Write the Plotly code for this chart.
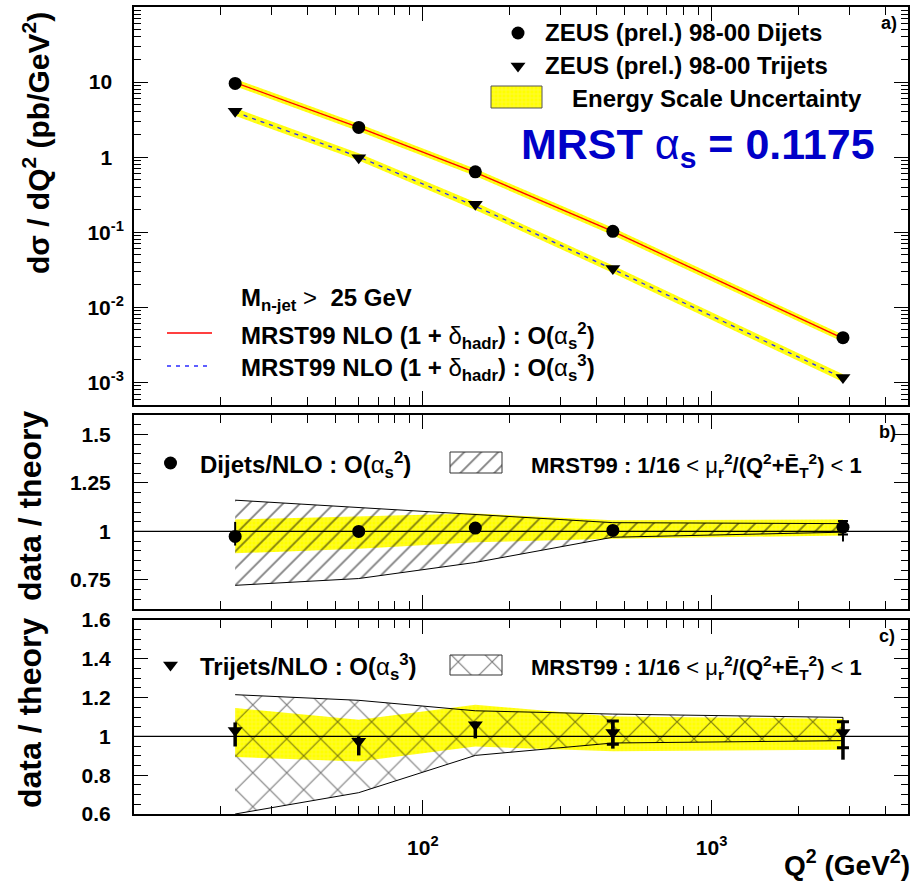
import plotly.graph_objects as go

W, H = 910, 884

# ---------------- data ----------------
q2 = [22.4, 60, 152, 455, 2850]

dijet_xsec = [9.6, 2.49, 0.637, 0.103, 0.00394]
trijet_xsec = [4.1, 0.98, 0.236, 0.0328, 0.00116]
dijet_nlo = [9.86, 2.49, 0.626, 0.1025, 0.00386]
trijet_nlo = [3.98, 1.01, 0.223, 0.0322, 0.00114]
dijet_esc_hi = [11.0, 2.78, 0.70, 0.115, 0.0043]
dijet_esc_lo = [8.8, 2.22, 0.56, 0.091, 0.00345]
trijet_esc_hi = [4.5, 1.13, 0.25, 0.036, 0.00128]
trijet_esc_lo = [3.55, 0.90, 0.198, 0.0287, 0.00101]

dijet_ratio = [0.974, 1.000, 1.017, 1.005, 1.022]
dijet_err_up = [0.075, 0.008, 0.008, 0.008, 0.032]
dijet_err_dn = [0.047, 0.008, 0.008, 0.008, 0.074]
dijet_stat_up = [0, 0, 0, 0, 0.032]
dijet_stat_dn = [0, 0, 0, 0, 0.038]
dijet_scale_hi = [1.161, 1.123, 1.087, 1.045, 1.040]
dijet_scale_lo = [0.722, 0.757, 0.840, 0.970, 0.996]
dijet_escr_hi = [1.061, 1.078, 1.092, 1.057, 1.061]
dijet_escr_lo = [0.887, 0.910, 0.944, 0.962, 0.979]

trijet_ratio = [1.03, 0.975, 1.06, 1.02, 1.02]
trijet_err_up = [0.042, 0.025, 0.017, 0.060, 0.062]
trijet_err_dn = [0.082, 0.073, 0.070, 0.083, 0.140]
trijet_stat_up = [0, 0, 0, 0.060, 0.055]
trijet_stat_dn = [0, 0, 0, 0.060, 0.078]
trijet_scale_hi = [1.215, 1.186, 1.132, 1.115, 1.098]
trijet_scale_lo = [0.600, 0.710, 0.902, 0.966, 0.978]
trijet_escr_hi = [1.146, 1.086, 1.163, 1.103, 1.090]
trijet_escr_lo = [0.894, 0.871, 0.948, 0.923, 0.931]

x_ticks = [100, 1000]
x_ticktext = ["10<sup>2</sup>", "10<sup>3</sup>"]
ya_ticks = [1e-3, 1e-2, 1e-1, 1, 10]
NB = "\u00a0"
ya_ticktext = ["10<sup>-3</sup>", "10<sup>-2</sup>", "10<sup>-1</sup>", "1" + NB * 2, "10" + NB * 2]
yb_ticks = [0.75, 1, 1.25, 1.5]
yb_ticktext = ["0.75", "1", "1.25", "1.5"]
yc_ticks = [0.6, 0.8, 1.0, 1.2, 1.4, 1.6]
yc_ticktext = ["0.6", "0.8", "1", "1.2", "1.4", "1.6"]

# ---------------- helpers ----------------
FONT = "Liberation Sans, Arial, Helvetica, sans-serif"
YEL = dict(shape="+", bgcolor="#ffff00", fgcolor="#fff28a", size=4, solidity=0.3)
HATCH_B = dict(shape="/", bgcolor="rgba(0,0,0,0)", fgcolor="black", size=12, solidity=0.15)
HATCH_C = dict(shape="x", bgcolor="rgba(0,0,0,0)", fgcolor="black", size=24, solidity=0.1)

xminor = [k * 10 ** d for d in (1, 2, 3) for k in range(2, 10) if k * 10 ** d < 4800]
yminor = [k * 10 ** d for d in (-4, -3, -2, -1, 0, 1) for k in range(2, 10) if 5e-4 < k * 10 ** d < 100]


def band(xs, hi, lo):
    return list(xs) + list(xs)[::-1], list(hi) + list(lo)[::-1]


fig = go.Figure()

# ---------------- panel a ----------------
bx, by = band(q2, dijet_esc_hi, dijet_esc_lo)
fig.add_trace(go.Scatter(x=bx, y=by, fill="toself", mode="lines", line=dict(width=0),
                         fillpattern=YEL, xaxis="x", yaxis="y", showlegend=False))
bx, by = band(q2, trijet_esc_hi, trijet_esc_lo)
fig.add_trace(go.Scatter(x=bx, y=by, fill="toself", mode="lines", line=dict(width=0),
                         fillpattern=YEL, xaxis="x", yaxis="y", showlegend=False))
fig.add_trace(go.Scatter(x=q2, y=dijet_nlo, mode="lines", line=dict(color="#ff0000", width=1.3),
                         xaxis="x", yaxis="y", showlegend=False))
fig.add_trace(go.Scatter(x=q2, y=trijet_nlo, mode="lines",
                         line=dict(color="#2a2aff", width=1.3, dash="4px,5px"),
                         xaxis="x", yaxis="y", showlegend=False))
fig.add_trace(go.Scatter(x=q2, y=dijet_xsec, mode="markers",
                         marker=dict(symbol="circle", size=13, color="black"),
                         xaxis="x", yaxis="y", showlegend=False))
fig.add_trace(go.Scatter(x=q2, y=trijet_xsec, mode="markers",
                         marker=dict(symbol="triangle-down", size=13, color="black"),
                         xaxis="x", yaxis="y", showlegend=False))

# ---------------- panel b ----------------
bx, by = band(q2, dijet_escr_hi, dijet_escr_lo)
fig.add_trace(go.Scatter(x=bx, y=by, fill="toself", mode="lines", line=dict(width=0),
                         fillpattern=YEL, xaxis="x2", yaxis="y2", showlegend=False))
bx, by = band(q2, dijet_scale_hi, dijet_scale_lo)
fig.add_trace(go.Scatter(x=bx, y=by, fill="toself", mode="lines", line=dict(width=1, color="black"),
                         fillpattern=HATCH_B, xaxis="x2", yaxis="y2", showlegend=False))
fig.add_trace(go.Scatter(x=q2, y=dijet_ratio, mode="markers",
                         marker=dict(symbol="circle", size=13, color="black"),
                         error_y=dict(type="data", symmetric=False, array=dijet_err_up,
                                      arrayminus=dijet_err_dn, width=0, thickness=2, color="black"),
                         xaxis="x2", yaxis="y2", showlegend=False))
sel = [i for i in range(len(q2)) if dijet_stat_up[i] > 0]
fig.add_trace(go.Scatter(x=[q2[i] for i in sel], y=[dijet_ratio[i] for i in sel], mode="markers",
                         marker=dict(size=1, color="black"),
                         error_y=dict(type="data", symmetric=False, array=[dijet_stat_up[i] for i in sel],
                                      arrayminus=[dijet_stat_dn[i] for i in sel], width=5, thickness=2,
                                      color="black"),
                         xaxis="x2", yaxis="y2", showlegend=False))

# ---------------- panel c ----------------
bx, by = band(q2, trijet_escr_hi, trijet_escr_lo)
fig.add_trace(go.Scatter(x=bx, y=by, fill="toself", mode="lines", line=dict(width=0),
                         fillpattern=YEL, xaxis="x3", yaxis="y3", showlegend=False))
bx, by = band(q2, trijet_scale_hi, trijet_scale_lo)
fig.add_trace(go.Scatter(x=bx, y=by, fill="toself", mode="lines", line=dict(width=1, color="black"),
                         fillpattern=HATCH_C, xaxis="x3", yaxis="y3", showlegend=False))
fig.add_trace(go.Scatter(x=q2, y=trijet_ratio, mode="markers",
                         marker=dict(symbol="triangle-down", size=13, color="black"),
                         error_y=dict(type="data", symmetric=False, array=trijet_err_up,
                                      arrayminus=trijet_err_dn, width=0, thickness=3.5, color="black"),
                         xaxis="x3", yaxis="y3", showlegend=False))
sel = [i for i in range(len(q2)) if trijet_stat_up[i] > 0]
fig.add_trace(go.Scatter(x=[q2[i] for i in sel], y=[trijet_ratio[i] for i in sel], mode="markers",
                         marker=dict(size=1, color="black"),
                         error_y=dict(type="data", symmetric=False, array=[trijet_stat_up[i] for i in sel],
                                      arrayminus=[trijet_stat_dn[i] for i in sel], width=6, thickness=3,
                                      color="black"),
                         xaxis="x3", yaxis="y3", showlegend=False))

# ---------------- legend glyphs (page-pixel overlay axes) ----------------
def box(x0, y0, x1, y1, pattern, lc):
    fig.add_trace(go.Scatter(x=[x0, x1, x1, x0, x0], y=[y0, y0, y1, y1, y0], fill="toself",
                             mode="lines", line=dict(color=lc, width=1), fillpattern=pattern,
                             xaxis="x4", yaxis="y4", showlegend=False))


box(491, 86, 542, 108, YEL, "#555555")
box(450, 452, 502, 473, HATCH_B, "#333333")
box(450, 655, 502, 675, HATCH_C, "#333333")
fig.add_trace(go.Scatter(x=[518, 170.5], y=[33, 463], mode="markers",
                         marker=dict(symbol="circle", size=13, color="black"),
                         xaxis="x4", yaxis="y4", showlegend=False))
fig.add_trace(go.Scatter(x=[518, 170.5], y=[66, 665], mode="markers",
                         marker=dict(symbol="triangle-down", size=13, color="black"),
                         xaxis="x4", yaxis="y4", showlegend=False))
fig.add_trace(go.Scatter(x=[167, 212], y=[333, 333], mode="lines",
                         line=dict(color="#ff0000", width=1.3), xaxis="x4", yaxis="y4", showlegend=False))
fig.add_trace(go.Scatter(x=[167, 212], y=[366, 366], mode="lines",
                         line=dict(color="#2a2aff", width=1.3, dash="4px,5px"),
                         xaxis="x4", yaxis="y4", showlegend=False))

# ---------------- axes ----------------
XD = [134 / W, 908 / W]


def ydom(top, bot):
    return [1 - bot / H, 1 - top / H]


common = dict(showline=True, linewidth=2, linecolor="black", mirror="allticks", showgrid=False,
              zeroline=False, ticks="inside", tickcolor="black", tickwidth=1, automargin=False)


def xcfg(anchor, labels):
    d = dict(common, type="log", range=[1, 3.68], domain=XD, anchor=anchor, ticklen=14,
             tickmode="array", tickvals=x_ticks, ticktext=x_ticktext, showticklabels=labels,
             ticklabelstandoff=14, tickfont=dict(size=21),
             minor=dict(ticks="inside", ticklen=8, tickmode="array", tickvals=xminor,
                        tickcolor="black", tickwidth=1, showgrid=False))
    return d


layout = dict(
    width=W, height=H, margin=dict(l=0, r=0, t=0, b=0, pad=0, autoexpand=False),
    paper_bgcolor="white", plot_bgcolor="rgba(0,0,0,0)",
    font=dict(family=FONT, size=20, color="black", weight="bold"),
    xaxis=xcfg("y", False), xaxis2=xcfg("y2", False), xaxis3=xcfg("y3", True),
    yaxis=dict(common, type="log", range=[-3.301, 2.0], domain=ydom(7, 405), anchor="x", ticklen=14,
               tickmode="array", tickvals=ya_ticks, ticktext=ya_ticktext, ticklabelstandoff=4,
               tickfont=dict(size=21),
               minor=dict(ticks="inside", ticklen=7, tickmode="array", tickvals=yminor,
                          tickcolor="black", tickwidth=1, showgrid=False)),
    yaxis2=dict(common, range=[0.6, 1.6], domain=ydom(415, 609), anchor="x2", ticklen=14,
                tickmode="array", tickvals=yb_ticks, ticktext=yb_ticktext, ticklabelstandoff=17,
                tickfont=dict(size=21),
                minor=dict(ticks="inside", ticklen=7, dtick=0.05, tick0=0.6,
                           tickcolor="black", tickwidth=1, showgrid=False)),
    yaxis3=dict(common, range=[0.6, 1.6], domain=ydom(620, 814), anchor="x3", ticklen=14,
                tickmode="array", tickvals=yc_ticks, ticktext=yc_ticktext, ticklabelstandoff=17,
                tickfont=dict(size=21),
                minor=dict(ticks="inside", ticklen=7, dtick=0.05, tick0=0.6,
                           tickcolor="black", tickwidth=1, showgrid=False)),
    xaxis4=dict(range=[0, W], domain=[0, 1], anchor="y4", visible=False, fixedrange=True, automargin=False),
    yaxis4=dict(range=[H, 0], domain=[0, 1], anchor="x4", visible=False, fixedrange=True, automargin=False),
)
fig.update_layout(**layout)

# reference lines at ratio 1
for ax in ("2", "3"):
    fig.add_shape(type="line", xref=f"x{ax} domain", yref=f"y{ax}", x0=0, x1=1, y0=1, y1=1,
                  line=dict(color="black", width=1.2), layer="above")

# ---------------- text ----------------
def ann(text, x, y, size=24, xanchor="left", yanchor="middle", color="black", angle=0):
    fig.add_annotation(text=text, x=x / W, y=1 - y / H, xref="paper", yref="paper",
                       xanchor=xanchor, yanchor=yanchor, showarrow=False, textangle=angle,
                       borderpad=0,
                       font=dict(family=FONT, size=size, color=color, weight="bold"))


NRM = "<span style='font-weight:normal'>"
ann("a)", 889, 23, size=18, xanchor="center")
ann("b)", 887, 432, size=18, xanchor="center")
ann("c)", 887, 636, size=18, xanchor="center")
ann("ZEUS (prel.) 98-00 Dijets", 544, 33)
ann("ZEUS (prel.) 98-00 Trijets", 544, 66)
ann("Energy Scale Uncertainty", 571, 98)
ann("MRST " + NRM + "α</span><sub>s</sub> = 0.1175", 520, 147, size=43, color="#0000c8")
ann("M<sub>n-jet</sub> " + NRM + "&gt;</span>  25 GeV", 240, 299)
ann("MRST99 NLO (1 + " + NRM + "δ</span><sub>hadr</sub>) : O(" + NRM + "α</span><sub>s</sub><sup>2</sup>)",
    240, 336)
ann("MRST99 NLO (1 + " + NRM + "δ</span><sub>hadr</sub>) : O(" + NRM + "α</span><sub>s</sub><sup>3</sup>)",
    240, 368)
ann("Dijets/NLO : O(" + NRM + "α</span><sub>s</sub><sup>2</sup>)", 199, 465)
ann("Trijets/NLO : O(" + NRM + "α</span><sub>s</sub><sup>3</sup>)", 199, 667)
mrst_scale = ("MRST99 : 1/16 " + NRM + "&lt;</span> " + NRM + "μ</span><sub>r</sub><sup>2</sup>"
              "/(Q<sup>2</sup>+Ē<sub>T</sub><sup>2</sup>) " + NRM + "&lt;</span> 1")
ann(mrst_scale, 530, 465, size=22)
ann(mrst_scale, 530, 667, size=22)
ann("dσ / dQ<sup>2</sup> (pb/GeV<sup>2</sup>)", 36, 143, size=30, xanchor="center", angle=-90)
ann("data / theory", 30, 506, size=32, xanchor="center", angle=-90)
ann("data / theory", 30, 713, size=32, xanchor="center", angle=-90)
ann("Q<sup>2</sup> (GeV<sup>2</sup>)", 911, 863, size=28, xanchor="right")

fig.write_html("out.html", config={"displayModeBar": False},
               post_script="document.body.style.margin='0px';")
